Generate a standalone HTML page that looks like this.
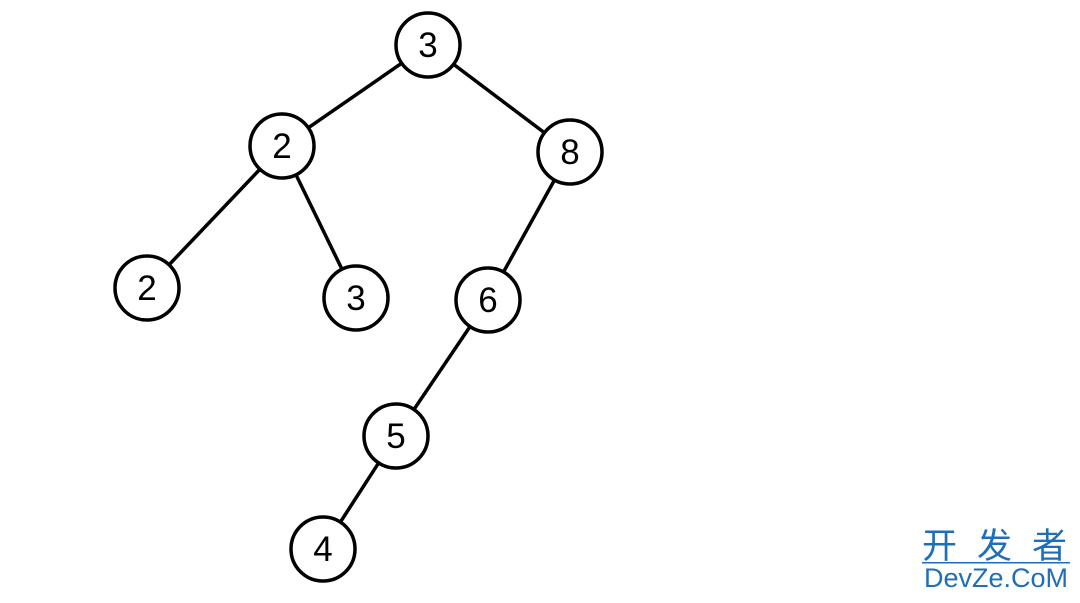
<!DOCTYPE html>
<html><head><style>body{margin:0;background:#fff}</style></head><body>
<svg width="1080" height="598" xmlns="http://www.w3.org/2000/svg">
<g stroke="#000" stroke-width="3.5" fill="none">
<line x1="428" y1="45" x2="282" y2="146"/>
<line x1="428" y1="45" x2="570" y2="152"/>
<line x1="282" y1="146" x2="147" y2="288"/>
<line x1="282" y1="146" x2="356" y2="298"/>
<line x1="570" y1="152" x2="488" y2="300"/>
<line x1="488" y1="300" x2="396" y2="436"/>
<line x1="396" y1="436" x2="323" y2="549"/>
</g>
<g stroke="#000" stroke-width="3.5" fill="#fff">
<circle cx="428" cy="45" r="32"/>
<circle cx="282" cy="146" r="32"/>
<circle cx="570" cy="152" r="32"/>
<circle cx="147" cy="288" r="32"/>
<circle cx="356" cy="298" r="32"/>
<circle cx="488" cy="300" r="32"/>
<circle cx="396" cy="436" r="32"/>
<circle cx="323" cy="549" r="32"/>
</g>
<g font-family="Liberation Sans, sans-serif" font-size="35" text-anchor="middle" fill="#000">
<text x="428" y="57">3</text>
<text x="282" y="158">2</text>
<text x="570" y="164">8</text>
<text x="147" y="300">2</text>
<text x="356" y="310">3</text>
<text x="488" y="312">6</text>
<text x="396" y="448">5</text>
<text x="323" y="561">4</text>
</g>
<g fill="#1f6fb8">
<text x="922" y="558" font-family="Noto Sans CJK SC, sans-serif" font-size="35" letter-spacing="20">开发者</text>
<rect x="922" y="562" width="148" height="1.5"/>
<text x="924" y="587" font-family="Liberation Sans, sans-serif" font-size="27" textLength="144" lengthAdjust="spacingAndGlyphs">DevZe.CoM</text>
</g>
</svg>
</body></html>
